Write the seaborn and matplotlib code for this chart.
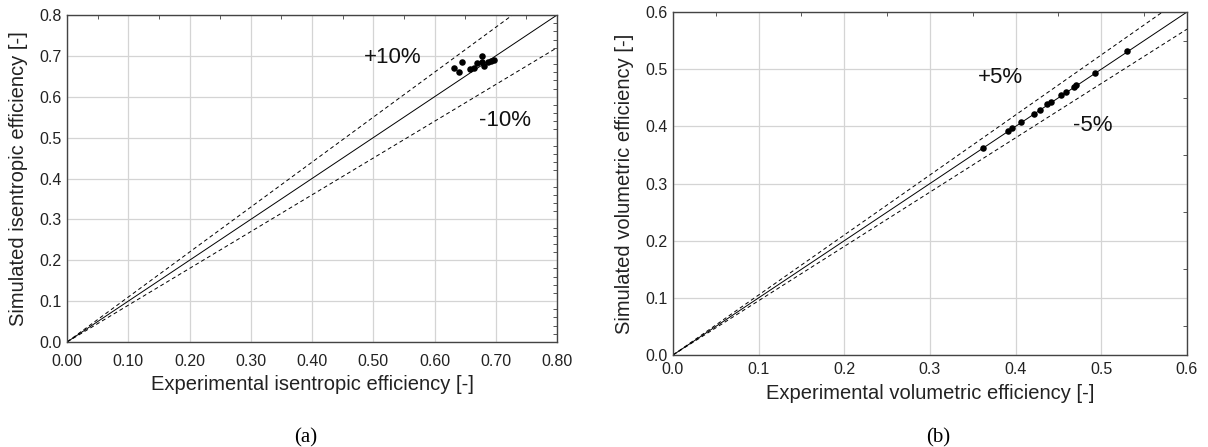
import numpy as np
import pandas as pd
import matplotlib
matplotlib.use("Agg")
import matplotlib.pyplot as plt
from matplotlib.ticker import MultipleLocator, FormatStrFormatter
import seaborn as sns

# Isentropic efficiency: experimental vs simulated
isen_exp = [0.632, 0.640, 0.645, 0.658, 0.664, 0.670, 0.678, 0.678, 0.681, 0.688, 0.692, 0.697]
isen_sim = [0.670, 0.661, 0.684, 0.668, 0.671, 0.683, 0.700, 0.684, 0.676, 0.686, 0.687, 0.691]

# Volumetric efficiency: experimental vs simulated
vol_exp = [0.362, 0.391, 0.396, 0.406, 0.421, 0.428, 0.437, 0.441, 0.453, 0.459, 0.468, 0.471, 0.493, 0.530]
vol_sim = [0.362, 0.392, 0.397, 0.407, 0.421, 0.429, 0.439, 0.443, 0.455, 0.460, 0.469, 0.472, 0.493, 0.531]

isen_band = 0.10
vol_band = 0.05

sns.set_theme(style="white")
plt.rcParams["font.family"] = ["Liberation Sans", "DejaVu Sans"]

fig = plt.figure(figsize=(12.08, 4.47), dpi=100)
ax_a = fig.add_axes([0.0555, 0.2349, 0.4056, 0.7315])
ax_b = fig.add_axes([0.5571, 0.2058, 0.4255, 0.7673])


def parity_panel(ax, exp, sim, band, lim, xmaj, xmin, ymaj, ymin, xfmt, yfmt,
                 xlabel, ylabel, plus_pos, minus_pos, xpad, xlabelpad, ylabelpad):
    xs = np.array([0.0, lim])
    ax.plot(xs, xs, color="black", lw=0.7, zorder=2)
    ax.plot(xs, xs * (1 + band), color="black", lw=0.7, ls=(0, (4, 3)), zorder=2)
    ax.plot(xs, xs * (1 - band), color="black", lw=0.7, ls=(0, (4, 3)), zorder=2)
    df = pd.DataFrame({"exp": exp, "sim": sim})
    sns.scatterplot(data=df, x="exp", y="sim", ax=ax, color="black", s=22,
                    edgecolor="black", linewidth=0, zorder=3)
    ax.set_xlim(0, lim)
    ax.set_ylim(0, lim)
    ax.xaxis.set_major_locator(MultipleLocator(xmaj))
    ax.xaxis.set_minor_locator(MultipleLocator(xmin))
    ax.yaxis.set_major_locator(MultipleLocator(ymaj))
    ax.yaxis.set_minor_locator(MultipleLocator(ymin))
    ax.xaxis.set_major_formatter(FormatStrFormatter(xfmt))
    ax.yaxis.set_major_formatter(FormatStrFormatter(yfmt))
    ax.grid(True, which="major", color="#d4d4d4", lw=0.9)
    ax.tick_params(which="both", direction="in", top=True, right=True,
                   labelsize=11.5, colors="black", labelcolor="#222222")
    ax.tick_params(which="major", length=0)
    ax.tick_params(axis="x", which="major", pad=xpad)
    ax.tick_params(axis="y", which="major", pad=4)
    ax.tick_params(which="minor", length=3, width=0.7, color="#555555")
    for sp in ax.spines.values():
        sp.set_color("#444444")
        sp.set_linewidth(1.0)
    ax.set_xlabel(xlabel, fontsize=14.5, color="#222222", labelpad=xlabelpad)
    ax.set_ylabel(ylabel, fontsize=14.5, color="#222222", labelpad=ylabelpad)
    pct = int(round(band * 100))
    ax.text(*plus_pos, f"+{pct}%", fontsize=16, ha="center", va="center", color="#111111")
    ax.text(*minus_pos, f"-{pct}%", fontsize=16, ha="center", va="center", color="#111111")


parity_panel(ax_a, isen_exp, isen_sim, isen_band, 0.8, 0.1, 0.05, 0.1, 0.02,
             "%.2f", "%.1f",
             "Experimental isentropic efficiency [-]",
             "Simulated isentropic efficiency [-]",
             (0.532, 0.697), (0.715, 0.543), 9, 4, 8)

parity_panel(ax_b, vol_exp, vol_sim, vol_band, 0.6, 0.1, 0.05, 0.1, 0.05,
             "%.1f", "%.1f",
             "Experimental volumetric efficiency [-]",
             "Simulated volumetric efficiency [-]",
             (0.382, 0.485), (0.490, 0.401), 5, 5, 8)

fig.text(306 / 1208, 1 - 438 / 447, "(a)", fontsize=15, family="Liberation Serif",
         ha="center", va="center", color="black")
fig.text(938 / 1208, 1 - 438 / 447, "(b)", fontsize=15, family="Liberation Serif",
         ha="center", va="center", color="black")

fig.savefig("out.png", dpi=100, facecolor="white")
